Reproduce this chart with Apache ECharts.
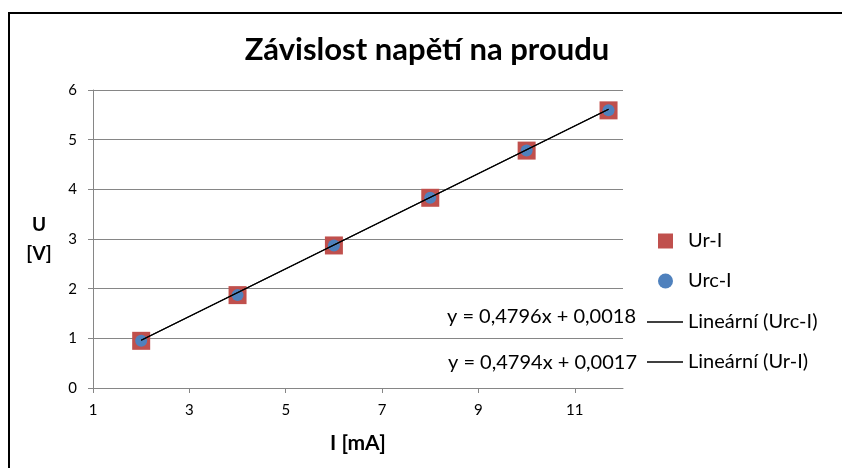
<!DOCTYPE html>
<html>
<head>
<meta charset="utf-8">
<script src="https://cdn.jsdelivr.net/npm/echarts@6/dist/echarts.min.js"></script>
<style>
  html, body { margin: 0; padding: 0; background: #fff; }
  #chart { width: 842px; height: 468px; }
</style>
</head>
<body>
<div id="chart"></div>
<script>
// proud I [mA]
var currentI = [2, 4, 6, 8, 10, 11.7];
// napětí Ur [V]
var voltageUr = [0.95, 1.87, 2.87, 3.83, 4.78, 5.59];
// napětí Urc [V]
var voltageUrc = [0.95, 1.87, 2.87, 3.83, 4.78, 5.59];
// lineární regrese (sklon, posun) z grafu
var fitUrc = [0.4796, 0.0018];
var fitUr = [0.4794, 0.0017];
var fitRange = [2, 11.7];

var fontName = 'Lato';

function pairs(xs, ys) {
  return xs.map(function (x, i) { return [x, ys[i]]; });
}
function fitLine(c) {
  return fitRange.map(function (x) { return [x, c[0] * x + c[1]]; });
}
function eqText(c) {
  return 'y = ' + String(c[0]).replace('.', ',') + 'x + ' + String(c[1]).replace('.', ',');
}

var myChart = echarts.init(document.getElementById('chart'));
var option = {
  animation: false,
  backgroundColor: '#fff',
  title: {
    text: 'Závislost napětí na proudu',
    left: 422,
    textAlign: 'center',
    top: 29,
    textStyle: { fontFamily: fontName, fontSize: 31, fontWeight: 'bold', color: '#000' }
  },
  grid: { left: 93, right: 219, top: 90, bottom: 80 },
  xAxis: {
    type: 'value',
    min: 1,
    max: 12,
    interval: 2,
    name: 'I [mA]',
    nameLocation: 'middle',
    nameGap: 45,
    nameTextStyle: { fontFamily: fontName, fontSize: 21, fontWeight: 'bold', color: '#000' },
    axisLine: { lineStyle: { color: '#868686' } },
    axisTick: { show: true, length: 5, lineStyle: { color: '#868686' } },
    axisLabel: { showMaxLabel: false, margin: 15, fontFamily: fontName, fontSize: 15, color: '#000' },
    splitLine: { show: false }
  },
  yAxis: {
    type: 'value',
    min: 0,
    max: 6,
    interval: 1,
    name: 'U\n[V]',
    nameLocation: 'middle',
    nameRotate: 0,
    nameGap: 54,
    nameTextStyle: { fontFamily: fontName, fontSize: 19, fontWeight: 'bold', color: '#000', align: 'center', lineHeight: 29 },
    axisLine: { show: true, lineStyle: { color: '#868686' } },
    axisTick: { show: true, length: 5, lineStyle: { color: '#868686' } },
    axisLabel: { margin: 16, fontFamily: fontName, fontSize: 15, color: '#000' },
    splitLine: { show: true, lineStyle: { color: '#868686', width: 1 } }
  },
  legend: [
    {
      data: ['Ur-I', 'Urc-I'],
      orient: 'vertical',
      left: 658,
      top: 231,
      padding: 0,
      itemWidth: 15,
      itemHeight: 15,
      itemGap: 20,
      textStyle: { fontFamily: fontName, fontSize: 20, lineHeight: 20, color: '#000', padding: [0, 0, 0, 10] }
    },
    {
      data: [
        { name: 'Lineární (Urc-I)', icon: 'rect', itemStyle: { color: '#000' } },
        { name: 'Lineární (Ur-I)', icon: 'rect', itemStyle: { color: '#000' } }
      ],
      orient: 'vertical',
      left: 647,
      top: 312,
      padding: 0,
      itemWidth: 36,
      itemHeight: 1.5,
      itemGap: 20,
      textStyle: { fontFamily: fontName, fontSize: 20, lineHeight: 20, color: '#000' }
    }
  ],
  graphic: [
    {
      type: 'rect',
      shape: { x: 9, y: 13, width: 900, height: 520 },
      style: { fill: 'none', stroke: '#000', lineWidth: 2 }
    },
    {
      type: 'text',
      x: 636,
      y: 317,
      style: { text: eqText(fitUrc), fill: '#000', font: '20px ' + fontName, align: 'right', verticalAlign: 'middle' }
    },
    {
      type: 'text',
      x: 637,
      y: 363,
      style: { text: eqText(fitUr), fill: '#000', font: '20px ' + fontName, align: 'right', verticalAlign: 'middle' }
    }
  ],
  series: [
    {
      name: 'Ur-I',
      type: 'scatter',
      symbol: 'rect',
      symbolSize: 18,
      itemStyle: { color: '#C0504D', opacity: 1 },
      data: pairs(currentI, voltageUr)
    },
    {
      name: 'Urc-I',
      type: 'scatter',
      symbol: 'circle',
      symbolSize: 12,
      itemStyle: { color: '#4F81BD', opacity: 1 },
      data: pairs(currentI, voltageUrc)
    },
    {
      name: 'Lineární (Urc-I)',
      type: 'line',
      symbol: 'none',
      lineStyle: { color: '#000', width: 1.2 },
      itemStyle: { color: '#000' },
      data: fitLine(fitUrc)
    },
    {
      name: 'Lineární (Ur-I)',
      type: 'line',
      symbol: 'none',
      lineStyle: { color: '#000', width: 1.2 },
      itemStyle: { color: '#000' },
      data: fitLine(fitUr)
    }
  ]
};
myChart.setOption(option);
</script>
</body>
</html>
